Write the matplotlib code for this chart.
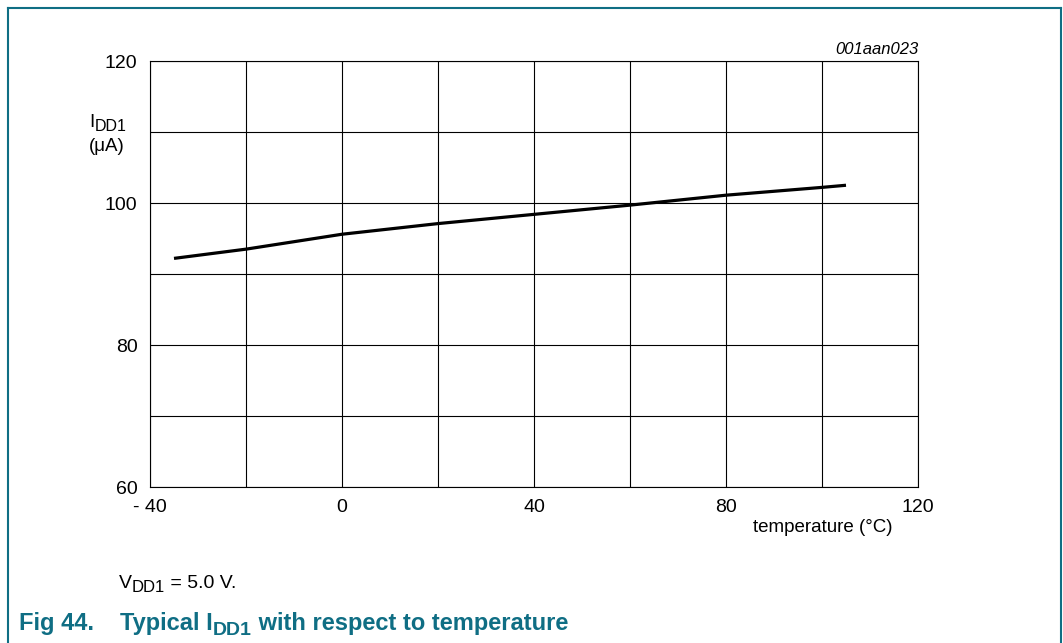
import matplotlib
matplotlib.use("Agg")
import matplotlib.pyplot as plt
from matplotlib.lines import Line2D

plt.rcParams['font.family'] = ['Liberation Sans', 'DejaVu Sans']

# Data
temperature = [-35, -20, 0, 20, 40, 60, 80, 100, 105]
idd1 = [92.2, 93.5, 95.6, 97.1, 98.4, 99.7, 101.1, 102.2, 102.5]
x_ticks = [-40, 0, 40, 80, 120]
x_tick_labels = ['- 40', '0', '40', '80', '120']
y_ticks = [60, 80, 100, 120]
y_tick_labels = ['60', '80', '100', '120']
x_grid = [-40, -20, 0, 20, 40, 60, 80, 100, 120]
y_grid = [60, 70, 80, 90, 100, 110, 120]

teal = '#0f6e84'
W, H = 1063, 643

fig = plt.figure(figsize=(10.63, 6.43), dpi=100)
ax = fig.add_axes([150/W, 1-487/H, 768/W, 426/H])

for g in x_grid:
    ax.axvline(g, color='black', lw=0.8, zorder=1)
for g in y_grid:
    ax.axhline(g, color='black', lw=0.8, zorder=1)

ax.plot(temperature, idd1, color='black', lw=2.3, zorder=3, solid_capstyle='butt')

ax.set_xlim(-40, 120)
ax.set_ylim(60, 120)
ax.set_xticks(x_ticks)
ax.set_xticklabels(x_tick_labels)
ax.set_yticks(y_ticks)
ax.set_yticklabels(y_tick_labels)
ax.tick_params(length=0, labelsize=14, pad=9)
for s in ax.spines.values():
    s.set_linewidth(0.8)
    s.set_color('black')

renderer = fig.canvas.get_renderer()


def put_parts(x_px, y_px, parts, **kw):
    """parts: list of (text, fontsize, dy_px). x_px,y_px in image pixel coords (top-left origin)."""
    x = x_px
    for txt, size, dy in parts:
        t = fig.text(x / W, 1 - (y_px + dy) / H, txt, ha='left', va='baseline', fontsize=size, **kw)
        bb = t.get_window_extent(renderer=renderer)
        x += bb.width


# axis labels
fig.text(823/W, 1-527/H, 'temperature (°C)', ha='center', va='center', fontsize=13.5)
put_parts(89, 127, [('I', 13.5, 0), ('DD1', 11.5, 4)])
fig.text(89/W, 1-151/H, '(μA)', ha='left', va='baseline', fontsize=13.5)
fig.text(919/W, 1-54/H, '001aan023', ha='right', va='baseline', fontsize=12, style='italic')

# notes and caption
put_parts(119, 588, [('V', 14, 0), ('DD1', 12, 4), (' = 5.0 V.', 14, 0)])
fig.text(19/W, 1-630/H, 'Fig 44.', ha='left', va='baseline', fontsize=17, fontweight='bold', color=teal)
put_parts(120, 630, [('Typical I', 17, 0), ('DD1', 14, 5), (' with respect to temperature', 17, 0)],
          fontweight='bold', color=teal)

# frame border (open at bottom)
for xs, ys in [([7.5, 7.5], [H, 7.5]), ([7.5, 1061], [7.5, 7.5]), ([1061, 1061], [7.5, H])]:
    fig.add_artist(Line2D([v / W for v in xs], [1 - v / H for v in ys],
                          transform=fig.transFigure, color=teal, lw=1.5))

fig.savefig('out.png', dpi=100)
